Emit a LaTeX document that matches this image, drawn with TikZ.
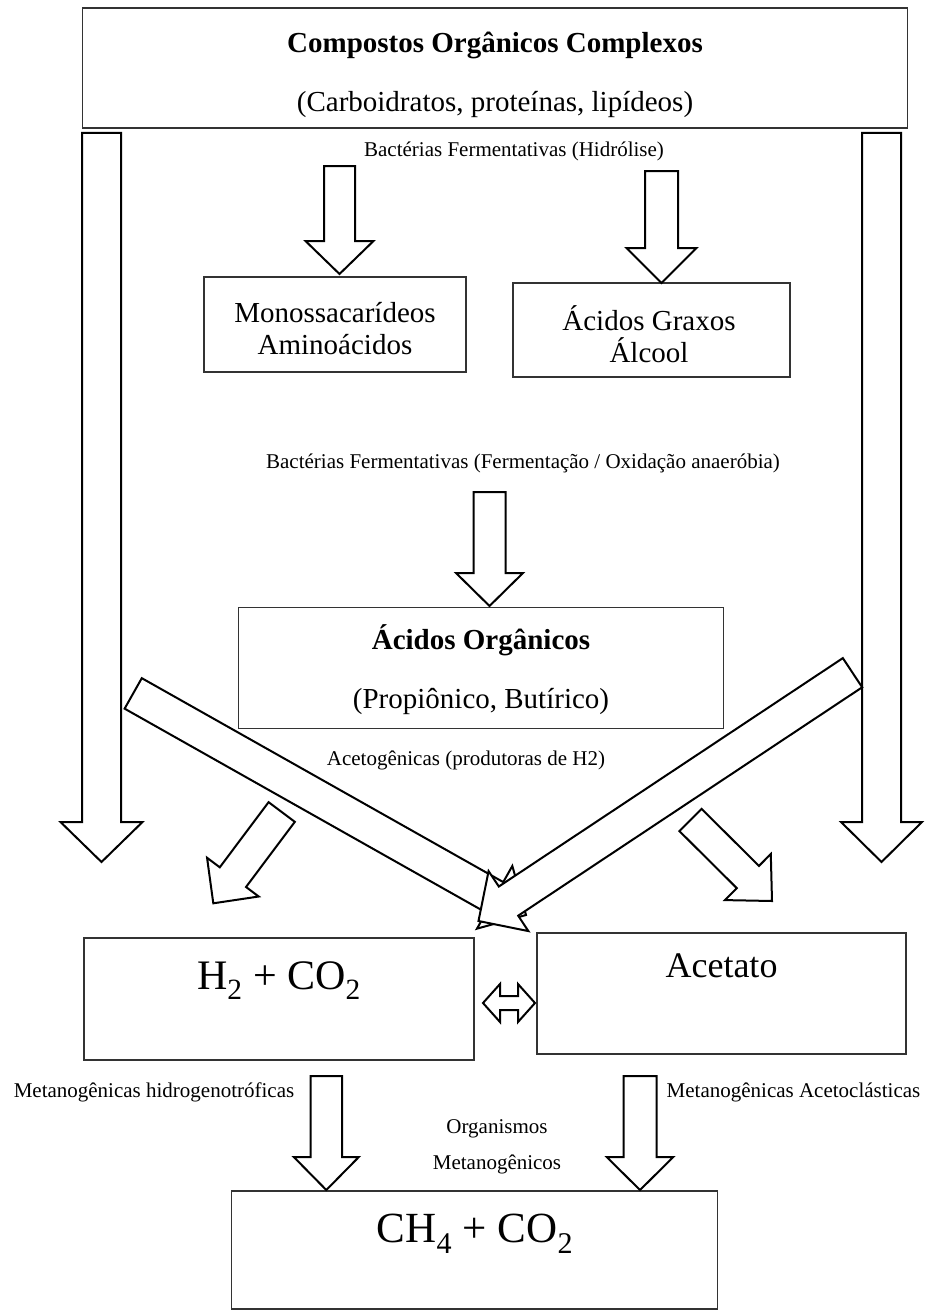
\documentclass[tikz,border=0pt]{standalone}
\usepackage{fontspec}
\setmainfont{Liberation Serif}
\usetikzlibrary{calc}
\newcommand{\blockArrow}[5]{%
	\coordinate (arrowHead) at ($(#2)!#5!(#1)$);
	\draw[block] ($(#1)!#3!90:(#2)$) -- ($(arrowHead)!#3!90:(#2)$) -- ($(arrowHead)!#4!90:(#2)$) -- (#2)
	-- ($(arrowHead)!#4!-90:(#2)$) -- ($(arrowHead)!#3!-90:(#2)$) -- ($(#1)!#3!-90:(#2)$) -- cycle;}
\newcommand{\fs}[1]{\fontsize{#1}{#1}\selectfont}

\begin{document}
\begin{tikzpicture}[x=1pt,y=-1pt]
	\useasboundingbox (0,0) rectangle (924,1311);
	
	\tikzstyle{box}=[draw=black!80,line width=1.2pt,inner sep=0pt]
	\tikzstyle{block}=[draw,fill=white,line width=2pt,line join=miter]
	\tikzstyle{txt}=[inner sep=0pt,anchor=base,font=\fs{29}]
	\tikzstyle{note}=[inner sep=0pt,anchor=base,font=\fs{21}]
	
	\node[box,minimum width=825,minimum height=120](compostos) at (495,68){};
	\node[box,minimum width=262,minimum height=95](mono) at (335,324.5){};
	\node[box,minimum width=277,minimum height=94](graxos) at (651.5,330){};
	\node[box,minimum width=485,minimum height=121](organicos) at (480.7,668.2){};
	\node[box,minimum width=390,minimum height=122](hidro) at (279,999){};
	\node[box,minimum width=369,minimum height=121](acetato) at (721.5,993.5){};
	\node[box,minimum width=486,minimum height=118](metano) at (474.8,1250){};
	
	\node[txt,font=\fs{29}\bfseries](compTitle) at (495,53){Compostos Orgânicos Complexos};
	\node[txt](compSub) at (495,112){(Carboidratos, proteínas, lipídeos)};
	\node[note](hidrolise) at (514,157){Bactérias Fermentativas (Hidrólise)};
	\node[txt](monoA) at (335,322){Monossacarídeos};
	\node[txt](monoB) at (335,354){Aminoácidos};
	\node[txt](graxA) at (649,330){Ácidos Graxos};
	\node[txt](graxB) at (649,362){Álcool};
	\node[note](fermentacao) at (523,468){Bactérias Fermentativas (Fermentação / Oxidação anaeróbia)};
	\node[txt,font=\fs{29}\bfseries](orgTitle) at (481,649){Ácidos Orgânicos};
	\node[txt](orgSub) at (481,708){(Propiônico, Butírico)};
	\node[note](acetog) at (466,765){Acetogênicas (produtoras de H2)};
	\node[txt,font=\fs{42}](hidroTxt) at (279,989){H\textsubscript{2} + CO\textsubscript{2}};
	\node[txt,font=\fs{36}](acetTxt) at (721.5,977){Acetato};
	\node[txt,font=\fs{43}](metTxt) at (475,1242){CH\textsubscript{4} + CO\textsubscript{2}};
	\node[note](hidrogenot) at (154,1097){Metanogênicas hidrogenotróficas};
	\node[note](acetocl) at (793.5,1097){Metanogênicas Acetoclásticas};
	\node[note](organismos) at (497,1133){Organismos};
	\node[note](metanog) at (497,1169){Metanogênicos};
	
	\coordinate (bigL) at (101.5,133);  \coordinate (bigLtip) at (101.5,862);
	\coordinate (bigR) at (881.5,133);  \coordinate (bigRtip) at (881.5,862);
	\coordinate (hidA) at (339.5,166);  \coordinate (hidAtip) at (339.5,274);
	\coordinate (hidB) at (661.5,171);  \coordinate (hidBtip) at (661.5,283);
	\coordinate (ferm) at (489.5,492);  \coordinate (fermTip) at (489.5,606);
	\coordinate (diagL) at (133.2,693.4); \coordinate (diagLtip) at (526,915);
	\coordinate (diagR) at (852.5,672.7); \coordinate (diagRtip) at (478.5,921);
	\coordinate (smallL) at (281.7,812); \coordinate (smallLtip) at (213.3,903.3);
	\coordinate (smallR) at (690.5,820); \coordinate (smallRtip) at (772,901);
	\coordinate (metL) at (326.3,1076); \coordinate (metLtip) at (326.3,1190);
	\coordinate (metR) at (640,1076);   \coordinate (metRtip) at (640,1190);
	\coordinate (dbl) at (509,1003);
	
	\blockArrow{bigL}{bigLtip}{19.5pt}{41pt}{40pt}
	\blockArrow{bigR}{bigRtip}{19.5pt}{40.5pt}{40pt}
	\blockArrow{hidA}{hidAtip}{15.5pt}{34pt}{33pt}
	\blockArrow{hidB}{hidBtip}{16.5pt}{35pt}{35pt}
	\blockArrow{ferm}{fermTip}{16pt}{33.5pt}{33pt}
	\blockArrow{diagL}{diagLtip}{17.5pt}{36pt}{36pt}
	\blockArrow{diagR}{diagRtip}{17.5pt}{36pt}{36pt}
	\blockArrow{smallL}{smallLtip}{16.4pt}{32.3pt}{32.7pt}
	\blockArrow{smallR}{smallRtip}{15.7pt}{32.5pt}{34pt}
	\blockArrow{metL}{metLtip}{15.75pt}{32.5pt}{33pt}
	\blockArrow{metR}{metRtip}{16.5pt}{33.3pt}{33pt}
	
	% seta dupla entre H2 + CO2 e Acetato
	\draw[block] (dbl) ++(-26,0) -- ++(17,-19) -- ++(0,12) -- ++(18,0) -- ++(0,-12) -- ++(17,19)
	-- ++(-17,19) -- ++(0,-12) -- ++(-18,0) -- ++(0,12) -- cycle;
	
\end{tikzpicture}
\end{document}
